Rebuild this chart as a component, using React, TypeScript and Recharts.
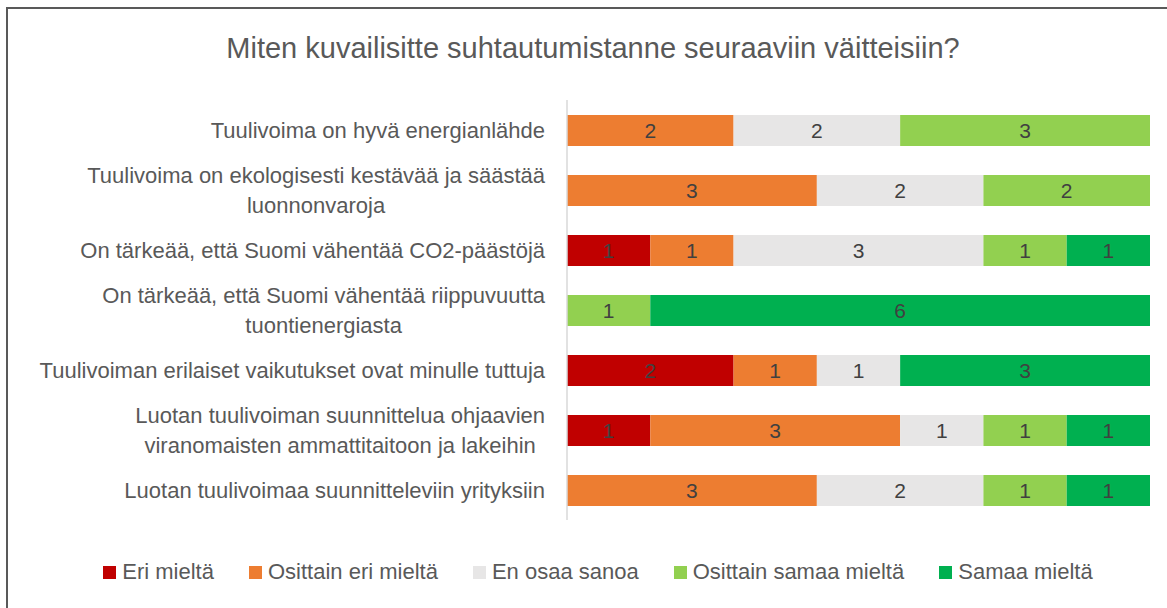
import { BarChart, Bar, XAxis, YAxis, Legend, LabelList } from "recharts";

const categories = [
  "Tuulivoima on hyvä energianlähde",
  "Tuulivoima on ekologisesti kestävää ja säästää\nluonnonvaroja",
  "On tärkeää, että Suomi vähentää CO2-päästöjä",
  "On tärkeää, että Suomi vähentää riippuvuutta\ntuontienergiasta",
  "Tuulivoiman erilaiset vaikutukset ovat minulle tuttuja",
  "Luotan tuulivoiman suunnittelua ohjaavien\nviranomaisten ammattitaitoon ja lakeihin",
  "Luotan tuulivoimaa suunnitteleviin yrityksiin",
];

const eriMielta = [0, 0, 1, 0, 2, 1, 0];
const osittainEri = [2, 3, 1, 0, 1, 3, 3];
const enOsaa = [2, 2, 3, 0, 1, 1, 2];
const osittainSamaa = [3, 2, 1, 1, 0, 1, 1];
const samaa = [0, 0, 1, 6, 3, 1, 1];

const series = [
  { key: "Eri mieltä", values: eriMielta, color: "#C00000" },
  { key: "Osittain eri mieltä", values: osittainEri, color: "#ED7D31" },
  { key: "En osaa sanoa", values: enOsaa, color: "#E7E6E6" },
  { key: "Osittain samaa mieltä", values: osittainSamaa, color: "#92D050" },
  { key: "Samaa mieltä", values: samaa, color: "#00B050" },
];

const data = categories.map((c, i) => {
  const row: Record<string, string | number> = { name: c };
  series.forEach((s) => (row[s.key] = s.values[i]));
  return row;
});

const FONT = "'Liberation Sans', Arial, sans-serif";
const TEXT = "#595959";
const LABEL_SIZE = 22;

let ctx: CanvasRenderingContext2D | null = null;
function textWidth(t: string, size: number) {
  if (!ctx) ctx = document.createElement("canvas").getContext("2d");
  if (!ctx) return t.length * size * 0.5;
  ctx.font = `${size}px ${FONT}`;
  return ctx.measureText(t).width;
}

function CategoryTick(props: any) {
  const { x, y, payload } = props;
  const lines: string[] = String(payload.value).split("\n");
  if (lines.length === 1) {
    return (
      <text x={x} y={y} textAnchor="end" dominantBaseline="central" fill={TEXT} fontSize={LABEL_SIZE} fontFamily={FONT}>
        {lines[0]}
      </text>
    );
  }
  // wrapped labels: lines centred on each other, block right-aligned
  const w = Math.max(...lines.map((l) => textWidth(l, LABEL_SIZE)));
  const cx = x - w / 2;
  const lh = 30;
  return (
    <g>
      {lines.map((l, i) => (
        <text key={i} x={cx} y={y + (i - (lines.length - 1) / 2) * lh} textAnchor="middle" dominantBaseline="central" fill={TEXT} fontSize={LABEL_SIZE} fontFamily={FONT}>
          {l}
        </text>
      ))}
    </g>
  );
}

function LegendContent() {
  return (
    <div style={{ display: "flex", justifyContent: "center", gap: 35, fontFamily: FONT, fontSize: 22, color: TEXT, paddingLeft: 10 }}>
      {series.map((s) => (
        <div key={s.key} style={{ display: "flex", alignItems: "center" }}>
          <span style={{ width: 13, height: 13, background: s.color, display: "inline-block", marginRight: 6 }} />
          <span>{s.key}</span>
        </div>
      ))}
    </div>
  );
}

export default function App() {
  return (
    <div style={{ position: "absolute", left: 6, top: 7, width: 1180, height: 620, borderTop: "2px solid #595959", borderLeft: "2px solid #595959", background: "#fff" }}>
      <div style={{ position: "absolute", top: 23, left: 0, width: 1170, textAlign: "center", fontFamily: FONT, fontSize: 29, color: TEXT }}>
        Miten kuvailisitte suhtautumistanne seuraaviin väitteisiin?
      </div>
      <BarChart
        width={1170}
        height={600}
        data={data}
        layout="vertical"
        barSize={31}
        margin={{ top: 91, right: 28, bottom: 89, left: 0 }}
      >
        <XAxis type="number" domain={[0, 7]} hide />
        <YAxis
          type="category"
          dataKey="name"
          width={559}
          axisLine={{ stroke: "#D9D9D9", strokeWidth: 1.5 }}
          tickLine={false}
          tickSize={0}
          tickMargin={22}
          tick={<CategoryTick />}
          interval={0}
        />
        <Legend
          layout="vertical"
          verticalAlign="middle"
          align="center"
          content={<LegendContent />}
          wrapperStyle={{ top: 550, left: 0, width: 1170 }}
        />
        {series.map((s) => (
          <Bar key={s.key} dataKey={s.key} stackId="a" fill={s.color} isAnimationActive={false}>
            <LabelList
              dataKey={s.key}
              position="center"
              formatter={(v: any) => (v ? v : "")}
              fill="#404040"
              fontSize={21}
              fontFamily={FONT}
            />
          </Bar>
        ))}
      </BarChart>
    </div>
  );
}
